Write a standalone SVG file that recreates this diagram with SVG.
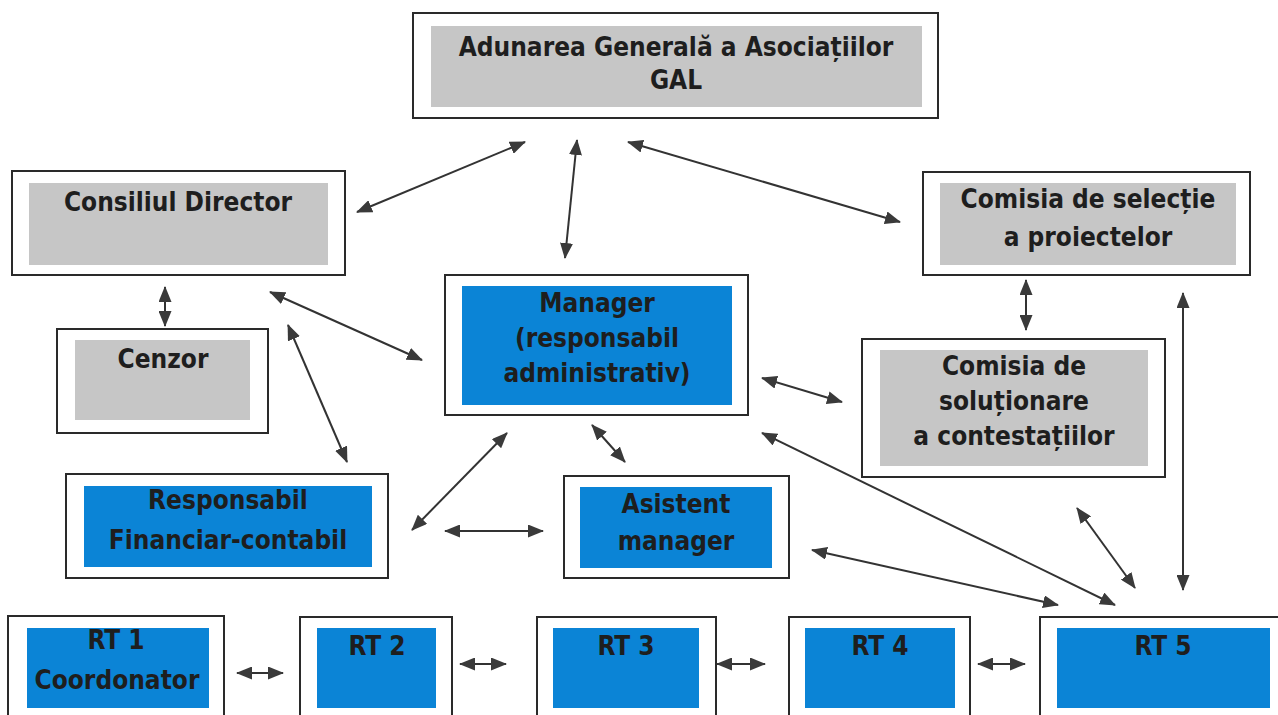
<svg xmlns="http://www.w3.org/2000/svg" width="1278" height="715" viewBox="0 0 1278 715">
<defs>
<marker id="ah" viewBox="0 0 16 13" refX="15" refY="6.5" markerWidth="16" markerHeight="13" markerUnits="userSpaceOnUse" orient="auto-start-reverse">
<path d="M0,0 L16,6.5 L0,13 Z" fill="#3a3a3a"/>
</marker>
</defs>
<style>
.outer{fill:#fff;stroke:#2a2a2a;stroke-width:2}
.gray{fill:#c6c6c6}
.blue{fill:#0b84d6}
.t{font-family:"DejaVu Sans Condensed","DejaVu Sans",sans-serif;font-weight:bold;font-size:26px;fill:#1e1e1e;text-anchor:middle}
.c line{stroke:#333;stroke-width:2;marker-start:url(#ah);marker-end:url(#ah)}
</style>
<rect width="1278" height="715" fill="#fff"/>
<g id="adunarea">
<rect class="outer" x="413" y="13" width="525" height="105"/>
<rect class="gray" x="431" y="26" width="491" height="81"/>
<text class="t" x="676" y="56">Adunarea Generală a Asociațiilor</text>
<text class="t" x="676" y="89">GAL</text>
</g>
<g id="consiliul">
<rect class="outer" x="12" y="171" width="333" height="104"/>
<rect class="gray" x="29" y="183" width="299" height="82"/>
<text class="t" x="178" y="211">Consiliul Director</text>
</g>
<g id="comisia-selectie">
<rect class="outer" x="923" y="172" width="327" height="103"/>
<rect class="gray" x="940" y="183" width="296" height="82"/>
<text class="t" x="1088" y="208">Comisia de selecție</text>
<text class="t" x="1088" y="246">a proiectelor</text>
</g>
<g id="cenzor">
<rect class="outer" x="57" y="329" width="211" height="104"/>
<rect class="gray" x="75" y="340" width="175" height="80"/>
<text class="t" x="163" y="368">Cenzor</text>
</g>
<g id="manager">
<rect class="outer" x="445" y="275" width="303" height="140"/>
<rect class="blue" x="462" y="286" width="270" height="119"/>
<text class="t" x="597" y="312">Manager</text>
<text class="t" x="597" y="347">(responsabil</text>
<text class="t" x="597" y="382">administrativ)</text>
</g>
<g id="comisia-solutionare">
<rect class="outer" x="862" y="339" width="303" height="138"/>
<rect class="gray" x="880" y="350" width="268" height="116"/>
<text class="t" x="1014" y="375">Comisia de</text>
<text class="t" x="1014" y="410">soluționare</text>
<text class="t" x="1014" y="445">a contestațiilor</text>
</g>
<g id="responsabil">
<rect class="outer" x="66" y="474" width="322" height="104"/>
<rect class="blue" x="84" y="486" width="288" height="81"/>
<text class="t" x="228" y="509">Responsabil</text>
<text class="t" x="228" y="549">Financiar-contabil</text>
</g>
<g id="asistent">
<rect class="outer" x="564" y="476" width="225" height="102"/>
<rect class="blue" x="580" y="487" width="192" height="81"/>
<text class="t" x="676" y="513">Asistent</text>
<text class="t" x="676" y="550">manager</text>
</g>
<g id="rt1">
<rect class="outer" x="8" y="616" width="216" height="110"/>
<rect class="blue" x="27" y="628" width="182" height="80"/>
<text class="t" x="116" y="649">RT 1</text>
<text class="t" x="117" y="689">Coordonator</text>
</g>
<g id="rt2">
<rect class="outer" x="300" y="617" width="152" height="110"/>
<rect class="blue" x="317" y="628" width="119" height="80"/>
<text class="t" x="377" y="655">RT 2</text>
</g>
<g id="rt3">
<rect class="outer" x="537" y="617" width="179" height="110"/>
<rect class="blue" x="553" y="628" width="146" height="80"/>
<text class="t" x="626" y="655">RT 3</text>
</g>
<g id="rt4">
<rect class="outer" x="789" y="617" width="181" height="110"/>
<rect class="blue" x="805" y="628" width="150" height="80"/>
<text class="t" x="880" y="655">RT 4</text>
</g>
<g id="rt5">
<rect class="outer" x="1040" y="617" width="250" height="110"/>
<rect class="blue" x="1057" y="628" width="213" height="80"/>
<text class="t" x="1163" y="655">RT 5</text>
</g>
<g id="connectors" class="c">
<line x1="525" y1="142" x2="357" y2="212"/>
<line x1="577" y1="140" x2="565" y2="258"/>
<line x1="628" y1="142" x2="900" y2="222"/>
<line x1="165" y1="287" x2="165" y2="326"/>
<line x1="270" y1="292" x2="422" y2="360"/>
<line x1="288" y1="325" x2="347" y2="462"/>
<line x1="507" y1="433" x2="412" y2="530"/>
<line x1="592" y1="425" x2="625" y2="462"/>
<line x1="445" y1="531" x2="543" y2="531"/>
<line x1="762" y1="378" x2="842" y2="402"/>
<line x1="762" y1="433" x2="1115" y2="605"/>
<line x1="812" y1="550" x2="1058" y2="605"/>
<line x1="1077" y1="508" x2="1135" y2="588"/>
<line x1="1026" y1="280" x2="1026" y2="330"/>
<line x1="1183" y1="293" x2="1183" y2="590"/>
<line x1="237" y1="673" x2="283" y2="673"/>
<line x1="460" y1="664" x2="506" y2="664"/>
<line x1="717" y1="664" x2="765" y2="664"/>
<line x1="978" y1="664" x2="1025" y2="664"/>
</g>
</svg>
